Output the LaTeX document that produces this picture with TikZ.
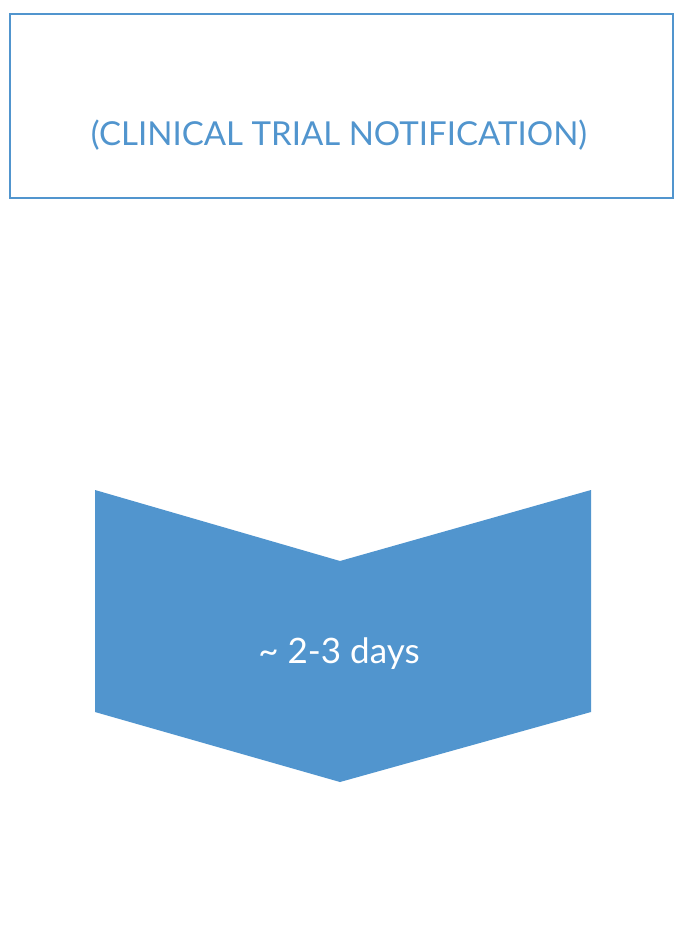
\documentclass[tikz,border=0pt]{standalone}
\usepackage{fontspec}
\setmainfont{Lato}
\definecolor{bl}{HTML}{5195CE}
\begin{document}
\begin{tikzpicture}[x=1pt,y=-1pt,
  titlebox/.style={draw=bl,line width=2pt,fill=white},
  chev/.style={fill=bl,draw=none}]
\useasboundingbox (0,0) rectangle (683,925);
\draw[titlebox] (10,14) rectangle (673,198);
\node[text=bl,font=\fontsize{33}{40}\selectfont] (t) at (339,135) {(CLINICAL TRIAL NOTIFICATION)};
\fill[chev] (95,490) -- (340,561) -- (591,490) -- (591,712) -- (340,782) -- (95,712) -- cycle;
\node[text=white,font=\fontsize{35}{42}\selectfont] (d) at (339,654) {\textasciitilde{} 2-3 days};
\end{tikzpicture}
\end{document}
